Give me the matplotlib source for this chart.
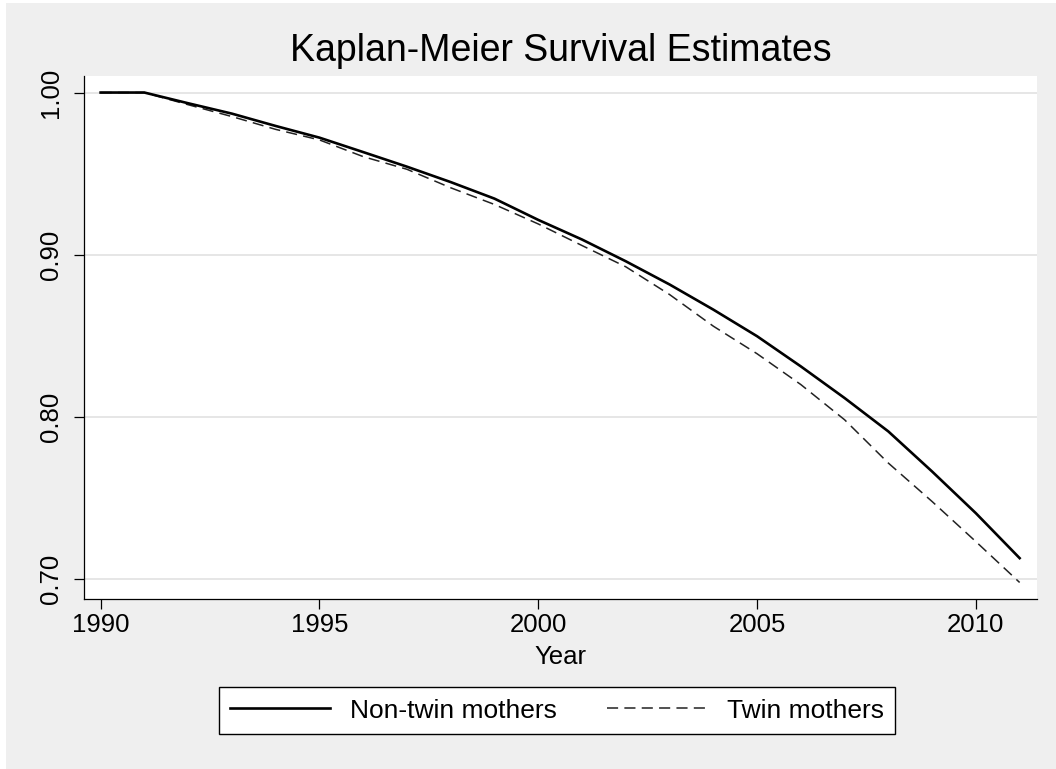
import matplotlib
matplotlib.use("Agg")
import matplotlib.pyplot as plt
from matplotlib.patches import Rectangle

# Kaplan-Meier survival, one point per year
years = [1990, 1991, 1992, 1993, 1994, 1995, 1996, 1997, 1998, 1999, 2000,
         2001, 2002, 2003, 2004, 2005, 2006, 2007, 2008, 2009, 2010, 2011]
non_twin = [1.000, 1.000, 0.9934, 0.987, 0.9794, 0.9722, 0.9633, 0.9543, 0.9448, 0.9346, 0.9215,
            0.9094, 0.8960, 0.8817, 0.8662, 0.8498, 0.8312, 0.8117, 0.7911, 0.7664, 0.7407, 0.7130]
twin = [1.000, 1.000, 0.9925, 0.9852, 0.9773, 0.9708, 0.9605, 0.9527, 0.9413, 0.9310, 0.9190,
        0.9057, 0.8926, 0.8755, 0.8560, 0.8390, 0.8200, 0.7983, 0.7716, 0.7479, 0.7232, 0.6980]

x_ticks = [1990, 1995, 2000, 2005, 2010]
y_ticks = [0.70, 0.80, 0.90, 1.00]

plt.rcParams['font.family'] = ['Liberation Sans', 'DejaVu Sans']
plt.rcParams['lines.scale_dashes'] = False

W, H = 1056, 769
fig = plt.figure(figsize=(W / 100, H / 100), dpi=100, facecolor='#efefef')
# thin white strip on the left and top edge
fig.patches.append(Rectangle((0, 0), 6 / W, 1, transform=fig.transFigure,
                             facecolor='white', edgecolor='none', zorder=-10))
fig.patches.append(Rectangle((0, 1 - 3 / H), 1, 3 / H, transform=fig.transFigure,
                             facecolor='white', edgecolor='none', zorder=-10))

ax = fig.add_axes([84 / W, (H - 598.7) / H, 952.7 / W, 522.7 / H])
ax.set_facecolor('white')

ax.plot(years, non_twin, color='black', lw=1.9, label='Non-twin mothers', zorder=3)
ax.plot(years, twin, color='#222222', lw=1.1, dashes=(8, 4.5), label='Twin mothers', zorder=2)

ax.set_xlim(1989.62, 2011.39)
ax.set_ylim(0.688, 1.0102)

ax.set_xticks(x_ticks)
ax.set_yticks(y_ticks)
ax.set_yticklabels(['%.2f' % v for v in y_ticks], rotation=90, va='center')
ax.tick_params(axis='both', direction='out', length=7, width=0.9, labelsize=18.5, colors='black')
ax.tick_params(axis='y', pad=8)
ax.tick_params(axis='x', pad=3)

ax.grid(axis='y', color='#e6e6e6', lw=1.4)
ax.set_axisbelow(True)
for side in ['top', 'right']:
    ax.spines[side].set_visible(False)
for side in ['left', 'bottom']:
    ax.spines[side].set_linewidth(0.9)

ax.set_xlabel('Year', fontsize=18.5, labelpad=6)
ax.set_title('Kaplan-Meier Survival Estimates', fontsize=27, pad=11)

leg = fig.legend(loc='center', bbox_to_anchor=(557 / W, 1 - 710.5 / H), ncol=2,
                 fontsize=19, frameon=True, fancybox=False, edgecolor='black',
                 handlelength=3.8, handletextpad=0.75, columnspacing=1.9,
                 borderpad=0.42, borderaxespad=0)
leg.get_frame().set_linewidth(1.0)
leg.get_frame().set_facecolor('white')
leg.get_frame().set_alpha(1)

fig.savefig('out.png', dpi=100, facecolor=fig.get_facecolor())
